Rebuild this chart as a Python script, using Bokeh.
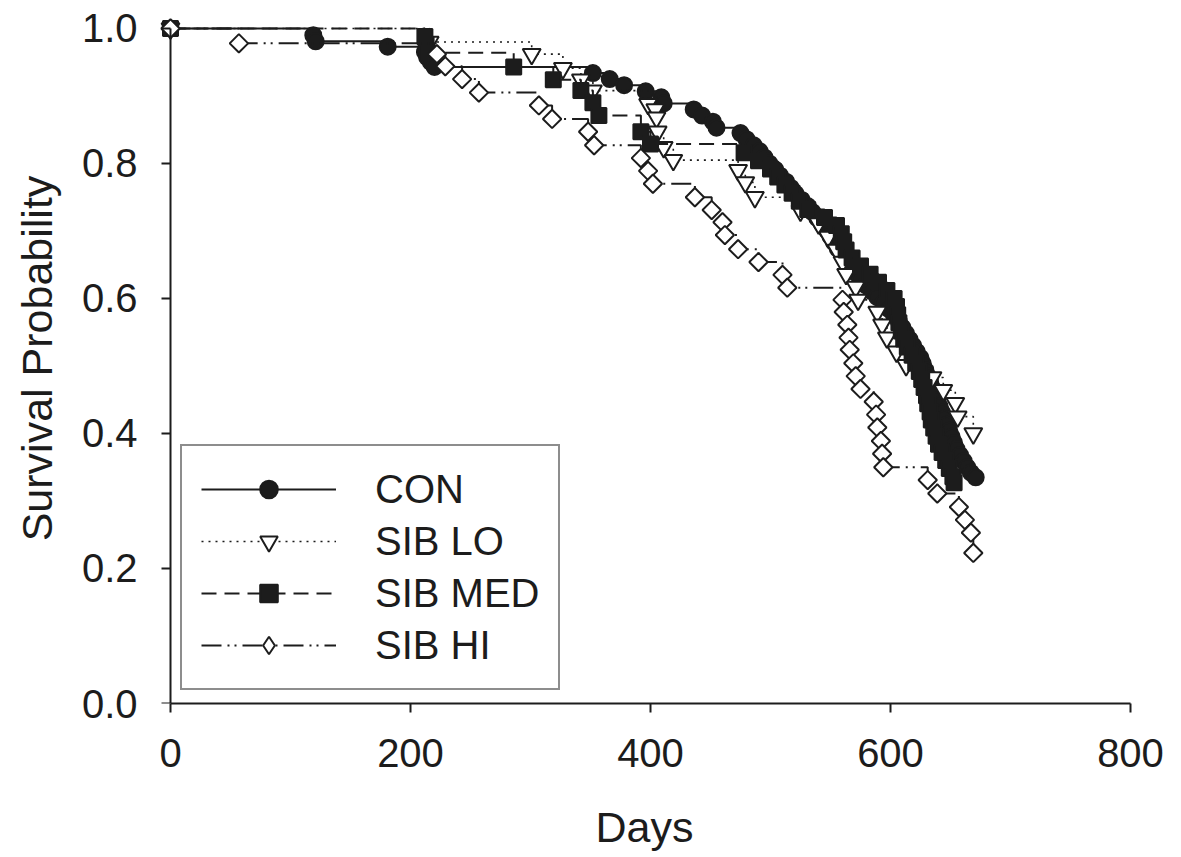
import math
from bokeh.plotting import figure
from bokeh.models import (Range1d, FixedTicker, Legend, LegendItem, PrintfTickFormatter,
                          LinearAxis, CustomJSTickFormatter)
from bokeh.embed import file_html
from bokeh.resources import INLINE

# ---------------- data ----------------
series_names = ["CON", "SIB LO", "SIB MED", "SIB HI"]

con_days = [0, 119, 121, 181, 212, 214, 217, 220, 352, 366, 378, 396, 409, 411,
            436, 443, 452, 455, 475, 480, 486, 491, 495, 499, 504, 508, 513, 517,
            521, 526, 531, 535, 539, 543, 547, 550, 553, 556, 560, 564, 567, 571,
            575, 579, 584, 589, 594, 599, 603, 607, 610, 613, 616, 619, 622, 625,
            627, 629, 631, 633, 635, 637, 639, 641, 643, 645, 647, 649, 651, 653,
            655, 658, 661, 664, 667, 671]
con_surv = [1.0, 0.990, 0.981, 0.973, 0.965, 0.957, 0.950, 0.943, 0.934, 0.925, 0.916, 0.907, 0.898, 0.889,
            0.880, 0.871, 0.862, 0.853, 0.845, 0.836, 0.827, 0.818, 0.809, 0.800, 0.791, 0.782, 0.773, 0.764,
            0.755, 0.746, 0.737, 0.728, 0.719, 0.710, 0.701, 0.692, 0.683, 0.674, 0.665, 0.656, 0.647, 0.638,
            0.629, 0.620, 0.611, 0.602, 0.593, 0.584, 0.575, 0.566, 0.557, 0.548, 0.539, 0.530, 0.521, 0.512,
            0.503, 0.494, 0.485, 0.476, 0.467, 0.458, 0.449, 0.440, 0.431, 0.422, 0.413, 0.404, 0.395, 0.386,
            0.377, 0.368, 0.359, 0.350, 0.342, 0.335]

lo_days = [0, 216, 301, 327, 342, 352, 398, 404, 405, 406, 411, 419, 473, 479, 487,
           525, 540, 548, 555, 560, 563, 571, 573, 589, 593, 597, 605, 613, 635,
           644, 654, 656, 669]
lo_surv = [1.0, 0.980, 0.962, 0.941, 0.924, 0.908, 0.888, 0.880, 0.868, 0.847, 0.824, 0.805, 0.790, 0.772, 0.750,
           0.730, 0.711, 0.691, 0.672, 0.654, 0.636, 0.617, 0.598, 0.580, 0.561, 0.542, 0.521, 0.501, 0.483,
           0.464, 0.445, 0.425, 0.400]

med_days = [0, 212, 213, 214, 286, 319, 342, 352, 357, 392, 400, 478, 490, 500, 506,
            512, 518, 524, 531, 545, 555, 559, 561, 563, 568, 575, 583, 590, 597, 603,
            605, 606, 607, 609, 611, 614, 618, 621, 624, 626, 628, 630, 631, 633, 634,
            636, 638, 640, 643, 646, 649, 652, 653]
med_surv = [1.0, 0.988, 0.976, 0.964, 0.943, 0.924, 0.908, 0.890, 0.871, 0.847, 0.829, 0.816, 0.804, 0.792, 0.780,
            0.768, 0.756, 0.744, 0.732, 0.720, 0.708, 0.696, 0.684, 0.672, 0.660, 0.648, 0.636, 0.624, 0.612, 0.600,
            0.588, 0.576, 0.564, 0.552, 0.540, 0.528, 0.516, 0.504, 0.492, 0.480, 0.468, 0.456, 0.444, 0.432, 0.420,
            0.408, 0.396, 0.384, 0.372, 0.360, 0.348, 0.336, 0.327]

hi_days = [0, 57, 222, 229, 243, 257, 307, 318, 348, 353, 392, 398, 402, 437, 451,
           460, 462, 473, 490, 510, 514, 560, 561, 564, 565, 566, 569, 571, 575, 586,
           588, 589, 592, 593, 594, 631, 639, 657, 662, 667, 669]
hi_surv = [1.0, 0.978, 0.962, 0.944, 0.925, 0.905, 0.886, 0.866, 0.847, 0.827, 0.808, 0.789, 0.770, 0.750, 0.731,
           0.713, 0.694, 0.673, 0.654, 0.635, 0.616, 0.598, 0.580, 0.561, 0.542, 0.524, 0.504, 0.485, 0.466, 0.447,
           0.428, 0.409, 0.389, 0.370, 0.350, 0.331, 0.311, 0.291, 0.272, 0.253, 0.223]

x_ticks = [0, 200, 400, 600, 800]
y_ticks = [0.0, 0.2, 0.4, 0.6, 0.8, 1.0]

# ---------------- figure ----------------
INK = "#1c1c1c"
FONT = "Liberation Sans"

p = figure(width=1181, height=857, output_backend="svg", toolbar_location=None,
           x_range=Range1d(-10, 800), y_range=Range1d(0, 1.0222),
           min_border_left=158, min_border_right=51, min_border_top=13, min_border_bottom=154)
p.outline_line_color = None
p.xgrid.grid_line_color = None
p.ygrid.grid_line_color = None
p.background_fill_color = "white"
p.border_fill_color = "white"


def style_axis(ax):
    ax.axis_line_color = INK
    ax.axis_line_width = 2
    ax.major_tick_line_color = INK
    ax.major_tick_line_width = 2
    ax.major_tick_out = 9
    ax.major_tick_in = 0
    ax.minor_tick_line_color = None
    ax.major_label_text_font = FONT
    ax.major_label_text_font_size = "40px"
    ax.major_label_text_color = INK
    ax.axis_label_text_font = FONT
    ax.axis_label_text_font_size = "43px"
    ax.axis_label_text_font_style = "normal"
    ax.axis_label_text_color = INK


# x axis
xax = p.xaxis[0]
style_axis(xax)
xax.ticker = FixedTicker(ticks=x_ticks)
xax.bounds = (0, 800)
xax.axis_label = "Days"
xax.major_label_standoff = 26
xax.axis_label_standoff = 33

# y axis: tick labels and title (at the frame edge, no line / ticks)
yax = p.yaxis[0]
style_axis(yax)
yax.ticker = FixedTicker(ticks=y_ticks)
yax.formatter = PrintfTickFormatter(format="%.1f")
yax.axis_line_color = None
yax.major_tick_line_color = None
yax.major_tick_out = 0
yax.major_label_standoff = 21
yax.axis_label = "Survival Probability"
yax.axis_label_standoff = 18

# y axis: line and ticks at day 0 (its labels are carried by the axis above)
yline = LinearAxis(ticker=FixedTicker(ticks=y_ticks), fixed_location=0, bounds=(0, 1))
style_axis(yline)
yline.formatter = CustomJSTickFormatter(code="return ''")
yline.major_label_standoff = 0
p.add_layout(yline, "left")

styles = [
    dict(days=con_days, surv=con_surv, dash="solid", lw=2, marker="circle", size=16, fill=INK, angle=0),
    dict(days=lo_days, surv=lo_surv, dash="2 5", lw=1.6, marker="inverted_triangle", size=18, fill="white", angle=0),
    dict(days=med_days, surv=med_surv, dash="15 8", lw=2, marker="square", size=15, fill=INK, angle=0),
    dict(days=hi_days, surv=hi_surv, dash="20 6 2 5 2 6", lw=2, marker="square", size=13, fill="white", angle=math.pi / 4),
]

items = []
for name, st in zip(series_names, styles):
    ln = p.step(st["days"], st["surv"], mode="after", line_color=INK,
                line_width=st["lw"], line_dash=st["dash"])
    key = None
    if st["angle"] != 0:
        # legend keys are drawn unrotated, so the key uses a diamond marker;
        # in the plot it sits hidden under the first rotated-square marker
        key = p.scatter(st["days"][:1], st["surv"][:1], marker="diamond", size=11,
                        fill_color=st["fill"], line_color=INK, line_width=2)
    sc = p.scatter(st["days"], st["surv"], marker=st["marker"], size=st["size"],
                   fill_color=st["fill"], line_color=INK, line_width=2, angle=st["angle"])
    items.append(LegendItem(label=name, renderers=[ln, key if key is not None else sc]))

legend = Legend(items=items, location=(22, 13))
legend.border_line_color = INK
legend.border_line_width = 2
legend.background_fill_color = "white"
legend.background_fill_alpha = 1
legend.label_text_font = FONT
legend.label_text_font_size = "40px"
legend.label_text_color = INK
legend.glyph_width = 135
legend.glyph_height = 44
legend.label_height = 48
legend.spacing = 4
legend.padding = 19
legend.label_standoff = 39
legend.margin = 0
p.add_layout(legend)

open("out.html", "w").write(file_html(p, INLINE))
